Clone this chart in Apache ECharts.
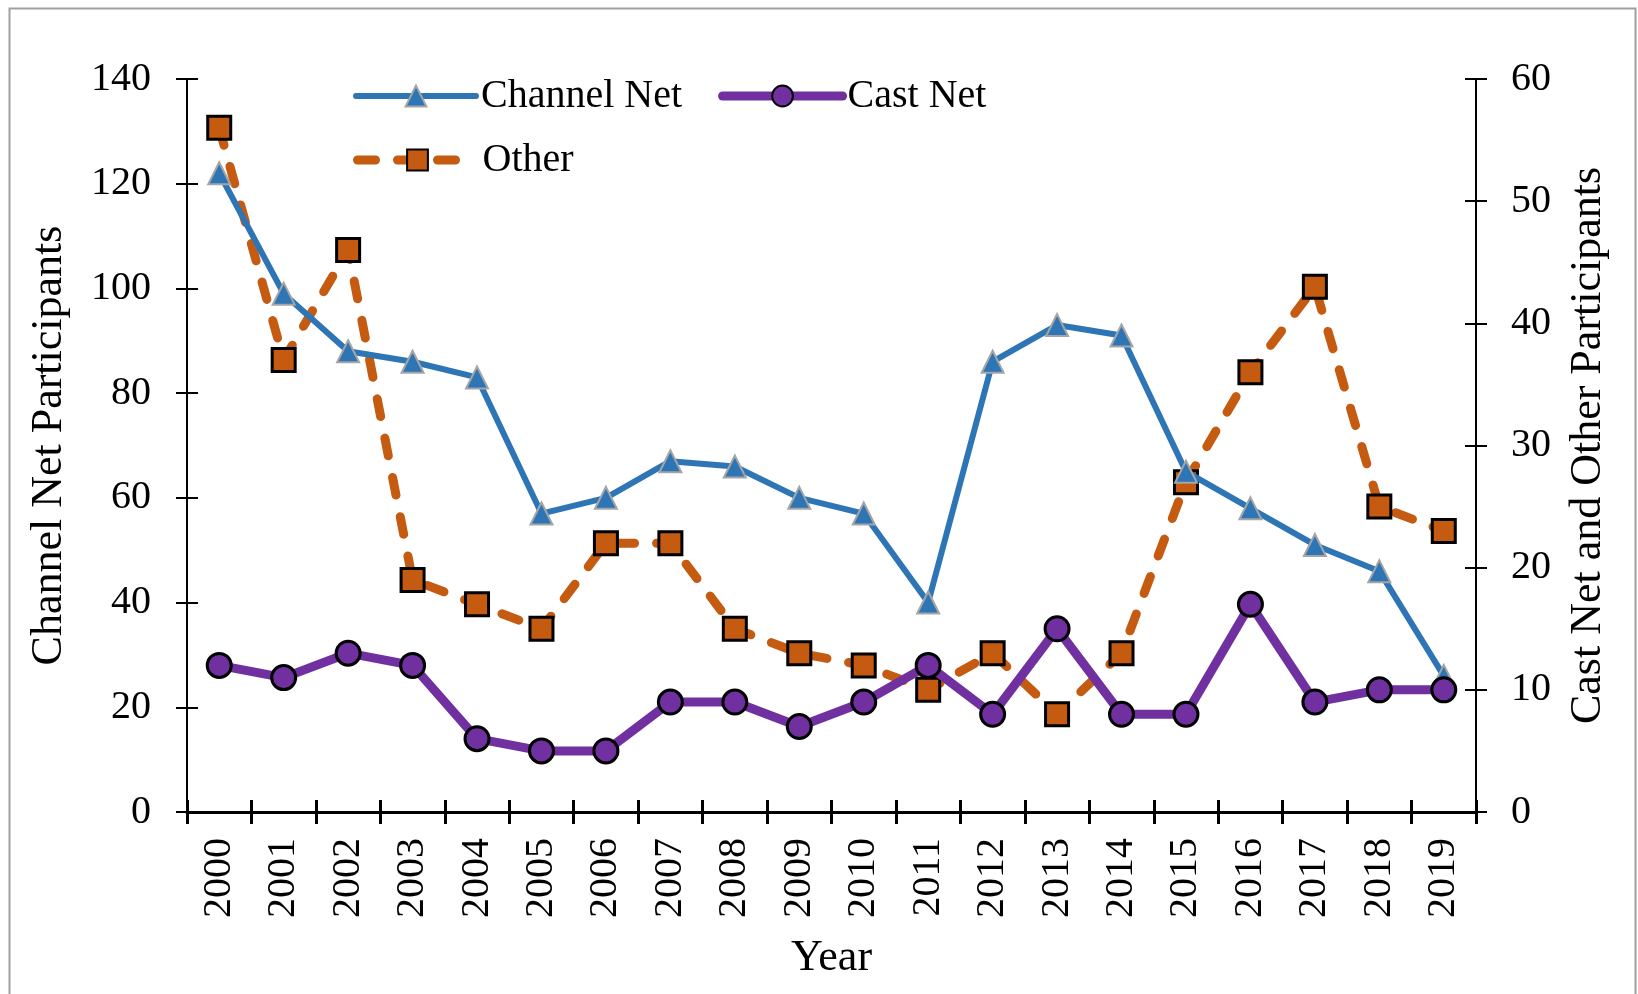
<!DOCTYPE html>
<html>
<head>
<meta charset="utf-8">
<script src="https://cdn.jsdelivr.net/npm/echarts@6/dist/echarts.min.js"></script>
<style>
html,body{margin:0;padding:0;background:#fff;}
#chart{width:1638px;height:994px;}
</style>
</head>
<body>
<div id="chart"></div>
<script>
const years = ['2000','2001','2002','2003','2004','2005','2006','2007','2008','2009','2010','2011','2012','2013','2014','2015','2016','2017','2018','2019'];
const channelNet = [122, 99, 88, 86, 83, 57, 60, 67, 66, 60, 57, 40, 86, 93, 91, 65, 58, 51, 46, 26];
const castNet = [12, 11, 13, 12, 6, 5, 5, 9, 9, 7, 9, 12, 8, 15, 8, 8, 17, 9, 10, 10];
const other = [56, 37, 46, 19, 17, 15, 22, 22, 15, 13, 12, 10, 13, 8, 13, 27, 36, 43, 25, 23];
const leftTicks = {min: 0, max: 140, interval: 20};
const rightTicks = {min: 0, max: 60, interval: 10};

const FONT = "'Liberation Serif', 'Times New Roman', serif";
const chart = echarts.init(document.getElementById('chart'));

const channelLine = {color: '#2E75B6', width: 6, cap: 'round'};
const castLine = {color: '#7030A0', width: 9, cap: 'round'};
const otherLine = {color: '#C55A11', width: 9, type: [18, 22], cap: 'round'};

const axisLineStyle = {color: '#000', width: 2};
chart.setOption({
  backgroundColor: '#fff',
  animation: false,
  textStyle: {fontFamily: FONT, color: '#000'},
  graphic: [{
    type: 'rect', left: 7, top: 6, z: -10,
    shape: {width: 1626, height: 1010},
    style: {fill: 'none', stroke: '#a0a0a0', lineWidth: 2}
  }],
  grid: {left: 187, right: 162, top: 79, bottom: 182, containLabel: false},
  legend: [{
    data: [
      {name: 'Channel Net', lineStyle: channelLine},
      {name: 'Cast Net', lineStyle: castLine}
    ],
    left: 353, top: 76, padding: 0,
    itemWidth: 120, itemHeight: 26, itemGap: 36,
    textStyle: {fontFamily: FONT, fontSize: 40, color: '#000'}
  }, {
    data: [{name: 'Other', lineStyle: otherLine}],
    left: 353, top: 140, padding: 0,
    itemWidth: 120, itemHeight: 26,
    textStyle: {fontFamily: FONT, fontSize: 40, color: '#000'}
  }],
  xAxis: [{
    type: 'category', data: years, position: 'bottom',
    name: 'Year', nameLocation: 'middle', nameGap: 124,
    nameTextStyle: {fontFamily: FONT, fontSize: 44, color: '#000'},
    axisLine: {lineStyle: {color: '#000', width: 3}},
    axisTick: {show: true, length: 12, lineStyle: {color: '#000', width: 3}},
    axisLabel: {rotate: 90, fontFamily: FONT, fontSize: 40, color: '#000', margin: 26},
    splitLine: {show: false}
  }, {
    type: 'category', data: years, position: 'bottom',
    axisLine: {show: false},
    axisTick: {show: true, inside: true, length: 12, lineStyle: {color: '#000', width: 3}},
    axisLabel: {show: false},
    splitLine: {show: false}
  }],
  yAxis: [{
    type: 'value', position: 'left',
    min: leftTicks.min, max: leftTicks.max, interval: leftTicks.interval,
    name: 'Channel Net Participants', nameLocation: 'middle', nameGap: 116,
    nameTextStyle: {fontFamily: FONT, fontSize: 44, color: '#000'},
    axisLine: {show: true, lineStyle: axisLineStyle},
    axisTick: {show: true, length: 11, lineStyle: {color: '#000', width: 2}},
    axisLabel: {fontFamily: FONT, fontSize: 40, color: '#000', margin: 36},
    splitLine: {show: false}
  }, {
    type: 'value', position: 'right',
    min: rightTicks.min, max: rightTicks.max, interval: rightTicks.interval,
    name: 'Cast Net and Other Participants', nameLocation: 'middle', nameGap: 90,
    nameTextStyle: {fontFamily: FONT, fontSize: 44, color: '#000'},
    axisLine: {show: true, lineStyle: axisLineStyle},
    axisTick: {show: true, length: 11, lineStyle: {color: '#000', width: 2}},
    axisLabel: {fontFamily: FONT, fontSize: 40, color: '#000', margin: 35},
    splitLine: {show: false}
  }, {
    type: 'value', position: 'left',
    min: leftTicks.min, max: leftTicks.max, interval: leftTicks.interval,
    axisLine: {show: false},
    axisTick: {show: true, inside: true, length: 11, lineStyle: {color: '#000', width: 2}},
    axisLabel: {show: false},
    splitLine: {show: false}
  }, {
    type: 'value', position: 'right',
    min: rightTicks.min, max: rightTicks.max, interval: rightTicks.interval,
    axisLine: {show: false},
    axisTick: {show: true, inside: true, length: 11, lineStyle: {color: '#000', width: 2}},
    axisLabel: {show: false},
    splitLine: {show: false}
  }],
  series: [{
    name: 'Channel Net', type: 'line', data: channelNet,
    xAxisIndex: 0, yAxisIndex: 0, z: 3,
    symbol: 'triangle', symbolSize: 22,
    lineStyle: channelLine,
    itemStyle: {color: '#2E75B6', borderColor: '#A5A5A5', borderWidth: 2},
    emphasis: {disabled: true}
  }, {
    name: 'Cast Net', type: 'line', data: castNet,
    xAxisIndex: 0, yAxisIndex: 1, z: 4,
    symbol: 'circle', symbolSize: 24,
    lineStyle: castLine,
    itemStyle: {color: '#7030A0', borderColor: '#000', borderWidth: 3},
    emphasis: {disabled: true}
  }, {
    name: 'Other', type: 'line', data: other,
    xAxisIndex: 0, yAxisIndex: 1, z: 2,
    symbol: 'rect', symbolSize: 23,
    lineStyle: otherLine,
    itemStyle: {color: '#C55A11', borderColor: '#000', borderWidth: 3},
    emphasis: {disabled: true}
  }]
});
</script>
</body>
</html>
